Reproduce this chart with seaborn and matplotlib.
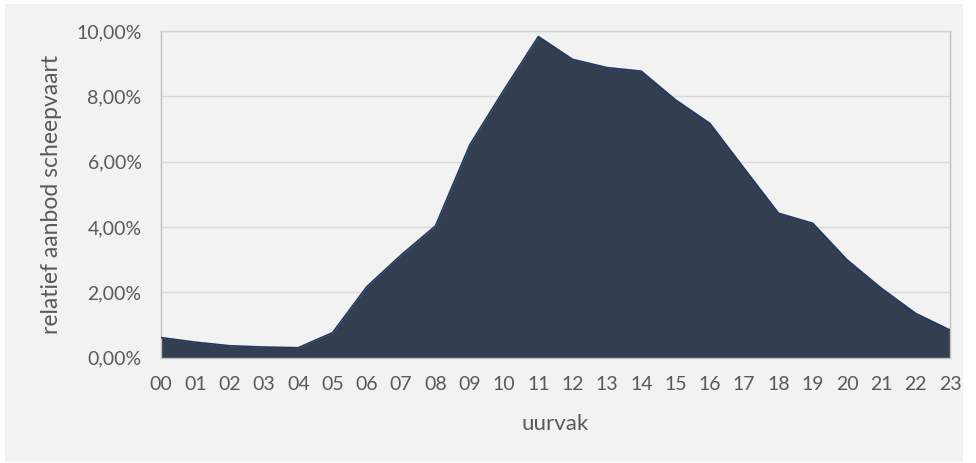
import matplotlib
matplotlib.use("Agg")
import matplotlib.pyplot as plt
from matplotlib.patches import Rectangle
from matplotlib.ticker import FuncFormatter
import numpy as np
import pandas as pd
import seaborn as sns

# Relatief aanbod scheepvaart per uurvak (percent of daily total)
uurvak = ["00", "01", "02", "03", "04", "05", "06", "07", "08", "09", "10", "11",
          "12", "13", "14", "15", "16", "17", "18", "19", "20", "21", "22", "23"]
aanbod_pct = [0.61, 0.47, 0.36, 0.32, 0.30, 0.76, 2.17, 3.14, 4.03, 6.51, 8.20, 9.83,
              9.13, 8.88, 8.77, 7.89, 7.17, 5.79, 4.42, 4.11, 2.99, 2.12, 1.35, 0.84]
y_ticks = [0, 2, 4, 6, 8, 10]

df = pd.DataFrame({"pos": np.arange(len(uurvak)), "uurvak": uurvak, "aanbod": aanbod_pct})

sns.set_theme(style="white")
plt.rcParams["font.family"] = ["Lato", "DejaVu Sans"]

W, H = 9.76, 4.63
fig = plt.figure(figsize=(W, H), dpi=100)
fig.patch.set_facecolor("white")
# chart area panel behind the axes
fig.patches.append(Rectangle((5 / 976, 1 - 462 / 463), 958 / 976, 458 / 463,
                             transform=fig.transFigure, facecolor="#F2F2F2",
                             edgecolor="none", zorder=-1))

left, right, top, bottom = 161 / 976, 950 / 976, 31 / 463, 357.5 / 463
ax = fig.add_axes([left, 1 - bottom, right - left, bottom - top])
ax.set_facecolor("#F2F2F2")

fill_col = "#333E50"
edge_col = "#1F3864"
ax.fill_between(df["pos"], 0, df["aanbod"], color=fill_col, linewidth=0, zorder=2)
sns.lineplot(data=df, x="pos", y="aanbod", ax=ax, color=edge_col, linewidth=1.2, zorder=3)

ax.set_xlim(0, len(uurvak) - 1)
ax.set_ylim(0, 10)
ax.set_xticks(df["pos"])
ax.set_xticklabels(uurvak)
ax.set_yticks(y_ticks)
ax.yaxis.set_major_formatter(FuncFormatter(lambda v, _: f"{v:.2f}%".replace(".", ",")))

ax.grid(axis="y", color="#D9D9D9", linewidth=1, zorder=1)
ax.set_axisbelow(True)
for side in ["left", "bottom", "right"]:
    ax.spines[side].set_visible(True)
    ax.spines[side].set_color("#BFBFBF")
    ax.spines[side].set_linewidth(1)
ax.spines["top"].set_visible(True)
ax.spines["top"].set_color("#CFCFCF")
ax.spines["top"].set_linewidth(1)

ax.tick_params(axis="both", length=0, labelsize=14, labelcolor="#595959")
ax.tick_params(axis="x", pad=13)
ax.tick_params(axis="y", pad=14)

ax.set_xlabel("uurvak", fontsize=16, color="#595959")
ax.set_ylabel("relatief aanbod scheepvaart", fontsize=16.5, color="#595959")
ax.xaxis.set_label_coords(0.5, -(424 - 357.5) / (357.5 - 31), transform=ax.transAxes)
ax.xaxis.label.set_va("center")
ax.yaxis.set_label_coords(-(161 - 52) / (950 - 161), 0.5, transform=ax.transAxes)
ax.yaxis.label.set_va("center")

fig.savefig("out.png", dpi=100, facecolor=fig.get_facecolor())
